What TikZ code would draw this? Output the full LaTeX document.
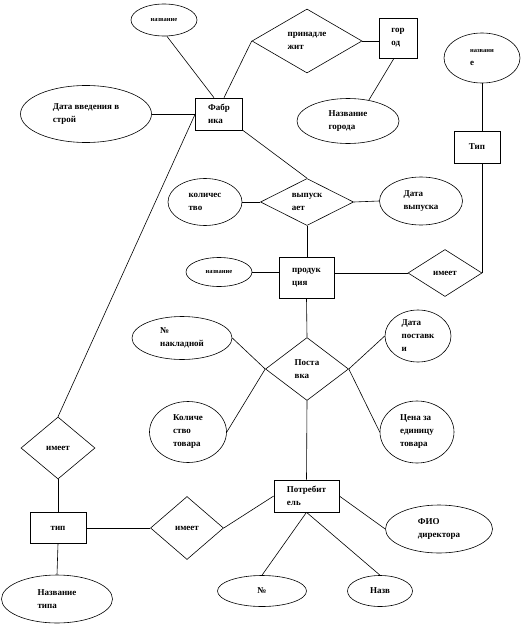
\documentclass[tikz,border=0pt]{standalone}
\usepackage{fontspec}
\setmainfont{Liberation Serif}
\usetikzlibrary{shapes.geometric,calc}
\tikzset{
  base/.style={draw, line width=0.6pt, inner sep=0pt, align=left, font=\bfseries\fontsize{9}{13}\selectfont},
  ent/.style={base, rectangle},
  attr/.style={base, ellipse},
  rel/.style={base, diamond},
  small/.style={font=\bfseries\fontsize{6.5}{12}\selectfont},
  conn/.style={line width=0.6pt}
}
\begin{document}
\begin{tikzpicture}[x=1pt,y=-1pt]
\useasboundingbox (0,0) rectangle (522,626);
% entities
\node[ent, minimum width=47, minimum height=32] (fab) at (219,114) {Фабр\\ика};
\node[ent, minimum width=38, minimum height=40] (gor) at (398,38) {гор\\од};
\node[ent, minimum width=46, minimum height=32] (tip) at (477,147) {Тип};
\node[ent, minimum width=55, minimum height=41] (prod) at (306.5,277.5) {продук\\ция};
\node[ent, minimum width=65, minimum height=32] (potr) at (306.5,496) {Потребит\\ель};
\node[ent, minimum width=56, minimum height=31] (tip2) at (58,528) {тип};
% relations
\node[rel, minimum width=110, minimum height=64, aspect=1.7] (pr) at (307,41) {принадле\\жит};
\node[rel, minimum width=93, minimum height=47, aspect=2] (vy) at (307,202) {выпуск\\ает};
\node[rel, minimum width=74, minimum height=47, aspect=1.6] (ime2) at (445,273) {имеет};
\node[rel, minimum width=83, minimum height=63, aspect=1.3] (pos) at (307,369) {Поста\\вка};
\node[rel, minimum width=74, minimum height=62, aspect=1.2] (ime1) at (58,448) {имеет};
\node[rel, minimum width=73, minimum height=63, aspect=1.2] (ime3) at (187,528) {имеет};
% attributes
\node[attr, small, minimum width=66, minimum height=32] (t1) at (164,20) {название};
\node[attr, minimum width=131, minimum height=57] (dv) at (86,114) {Дата введения в\\строй};
\node[attr, minimum width=102, minimum height=45] (ng) at (348,121) {Название\\города};
\node[attr, minimum width=76, minimum height=50] (tn) at (482,58) {{\fontsize{6.5}{12}\selectfont названи}\\е};
\node[attr, minimum width=74, minimum height=47] (kol) at (205,202) {количес\\тво};
\node[attr, minimum width=83, minimum height=48] (dvy) at (421,201) {Дата\\выпуска};
\node[attr, small, minimum width=66, minimum height=29] (np) at (219,272) {название};
\node[attr, minimum width=100, minimum height=43] (nn) at (182,338) {№\\накладной};
\node[attr, minimum width=66, minimum height=52] (dp) at (418,336) {Дата\\поставк\\и};
\node[attr, minimum width=77, minimum height=61] (kt) at (188,432) {Количе\\ство\\товара};
\node[attr, minimum width=74, minimum height=62] (cena) at (417,432) {Цена за\\единицу\\товара};
\node[attr, minimum width=107, minimum height=48] (fio) at (439,529) {ФИО\\директора};
\node[attr, minimum width=89, minimum height=31] (n1) at (262,591) {№};
\node[attr, minimum width=65, minimum height=31] (naz) at (380,591) {Назв};
\node[attr, minimum width=111, minimum height=48] (nt) at (57,599) {Название\\типа};
% connectors
\draw[conn] (t1.-80) -- ($(fab.north)+(-5,0)$);
\draw[conn] (dv.east) -- (fab.west);
\draw[conn] (fab.west) -- (ime1.north);
\draw[conn] ($(fab.north)+(5,0)$) -- (pr.west);
\draw[conn] (pr.east) -- (pr.east -| gor.west);
\draw[conn] ($(gor.south)+(-4,0)$) -- (ng.45);
\draw[conn] (tn.south) -- (tn.south |- tip.north);
\draw[conn] (ime2.east |- tip.south) -- (ime2.east);
\draw[conn] (fab.south east) -- (vy.north);
\draw[conn] (kol.east) -- (vy.west);
\draw[conn] (vy.east) -- (dvy.west);
\draw[conn] (vy.south) -- (vy.south |- prod.north);
\draw[conn] (np.east) -- (np.east -| prod.west);
\draw[conn] (prod.east |- ime2.west) -- (ime2.west);
\draw[conn] (prod.south) -- (pos.north);
\draw[conn] (nn.east) -- (pos.west);
\draw[conn] (pos.east) -- (dp.west);
\draw[conn] (pos.west) -- (kt.east);
\draw[conn] (pos.east) -- (cena.west);
\draw[conn] (pos.south) -- (potr.north);
\draw[conn] (potr.west) -- (ime3.east);
\draw[conn] (potr.east) -- (fio.west);
\draw[conn] (potr.south) -- (n1.north);
\draw[conn] (potr.south) -- (naz.north);
\draw[conn] (tip2.east) -- (ime3.west);
\draw[conn] (ime1.south) -- (tip2.north);
\draw[conn] (tip2.south) -- (nt.north);
\end{tikzpicture}
\end{document}
